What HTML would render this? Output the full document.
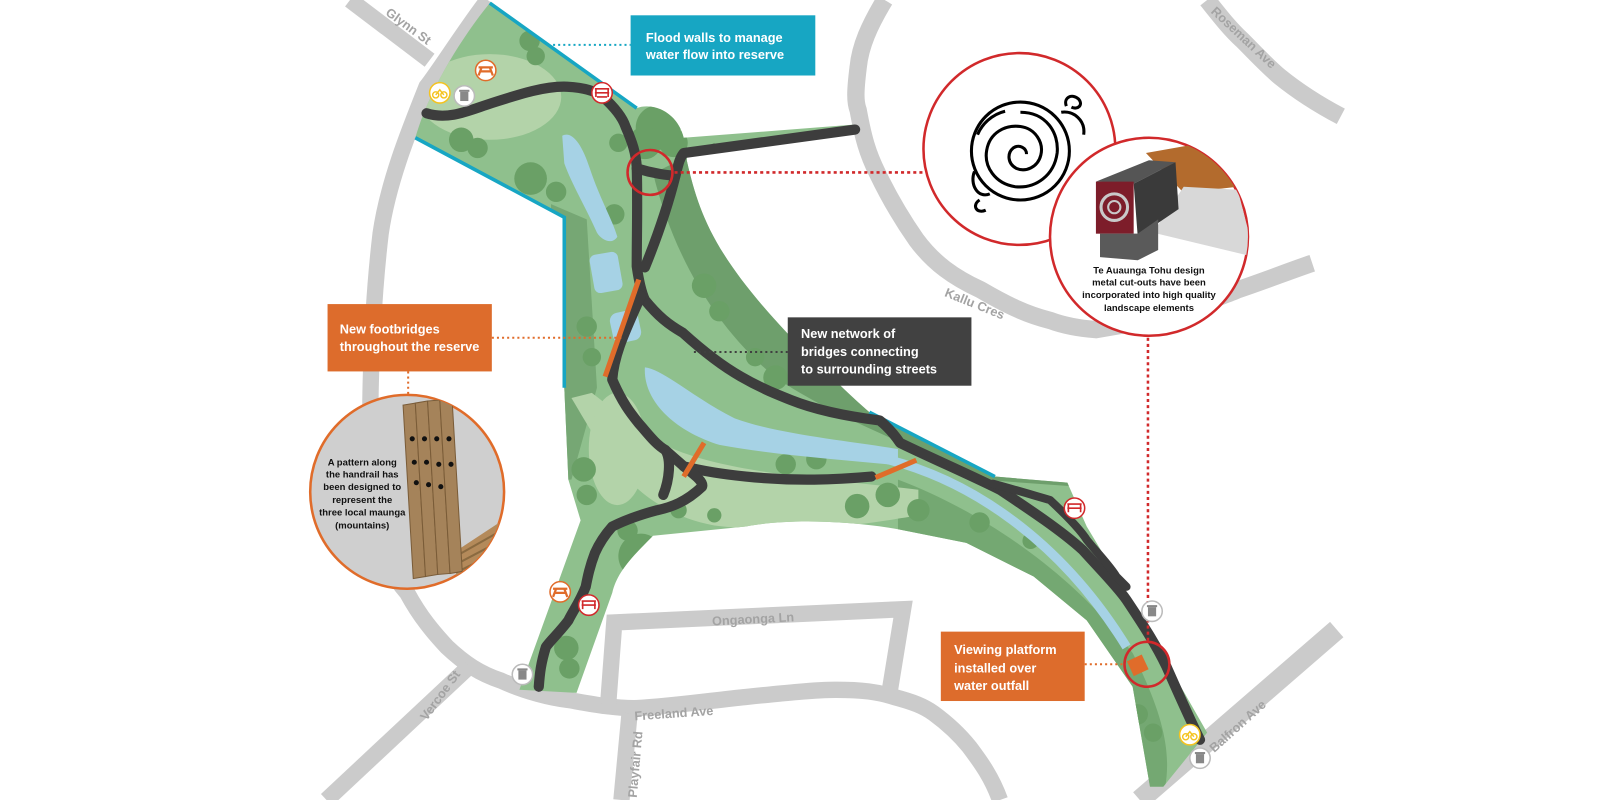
<!DOCTYPE html>
<html><head><meta charset="utf-8">
<style>
html,body{margin:0;padding:0;background:#fff;}
svg{display:block;}
text{font-family:"Liberation Sans",sans-serif;}
.rd{fill:none;stroke:#cbcbcb;stroke-width:16;}
.rl{fill:#a3a3a3;font-size:12.5px;font-weight:bold;}
.pth{fill:none;stroke:#3d3d3d;stroke-width:10;stroke-linecap:round;stroke-linejoin:round;}
.br{stroke:#e06c2a;stroke-width:5;}
.bx{fill:#fff;font-size:12.5px;font-weight:bold;}
.ct{fill:#111;font-size:9.3px;font-weight:bold;text-anchor:middle;}
</style></head>
<body>
<svg width="1600" height="800" viewBox="0 0 1568 784" xmlns="http://www.w3.org/2000/svg">
<defs>
<clipPath id="c2"><circle cx="1126" cy="232" r="97"/></clipPath>
<clipPath id="c3"><circle cx="399" cy="482" r="95"/></clipPath>
<clipPath id="park"><path id="parkp" d="M480,3 L624,106 C640,100 664,110 670,135 L838,122 L838,130 L673,150 L673,157 C685,210 700,250 771,326 C800,355 830,385 852,404 L975,467 L1046,473 L1065,516 L1098,571 L1127,620 L1183,718 L1140,771 L1127,771 L1110,673 L1065,608 L1013,565 L947,532 L882,519 C820,508 760,510 731,516 L640,525 C620,545 605,560 600,581 L565,679 L509,676 L569,510 L557,470 L553,380 L553,213 L407,135 C420,90 450,40 480,3 Z"/></clipPath>
</defs>

<!-- roads -->
<path class="rd" d="M343,0 L421,59"/>
<path class="rd" d="M478,0 C455,30 430,70 418,85 C400,130 380,180 373,229 C367,280 364,330 363,392 L363,500 C370,540 385,565 399,581 C412,605 425,620 438,634 C455,650 470,660 491,667 C515,678 540,684 557,686 C580,690 600,694 622,694 C660,692 700,686 731,683 C770,679 800,676 819,676 C845,676 860,678 876,683 C895,688 905,692 915,699 C930,710 942,722 950,732 C962,748 972,762 980,784"/>
<path class="rd" d="M460,653 L320,784"/>
<path class="rd" d="M617,699 L609,784"/>
<path class="rd" d="M596,690 L602,610 L885,597 L871,683"/>
<path class="rd" style="stroke-width:17" d="M867,0 C852,25 843,45 841,66 C838,90 838,100 841,108 C846,135 850,150 860,170 C872,195 884,215 898,235 C915,258 935,272 961,284 C985,298 1005,308 1029,314 C1045,320 1060,322 1074,323 L1150,310 C1180,295 1200,290 1213,284 C1240,275 1265,265 1286,258"/>
<path class="rd" style="stroke-width:17" d="M1183,0 C1195,15 1205,28 1217,39 C1230,52 1242,65 1254,75 C1275,92 1295,104 1314,114"/>
<path class="rd" style="stroke-width:20" d="M1310,617 L1117,784"/>

<!-- road labels -->
<text class="rl" transform="translate(377,14) rotate(36)">Glynn St</text>
<text class="rl" transform="translate(1186,12) rotate(43)">Roseman Ave</text>
<text class="rl" transform="translate(925,290) rotate(22)">Kallu Cres</text>
<text class="rl" transform="translate(698,613) rotate(-3)">Ongaonga Ln</text>
<text class="rl" transform="translate(622,706) rotate(-4)">Freeland Ave</text>
<text class="rl" transform="translate(624,782) rotate(-85)">Playfair Rd</text>
<text class="rl" transform="translate(418,707) rotate(-54)">Vercoe St</text>
<text class="rl" transform="translate(1190,738) rotate(-42)">Balfron Ave</text>

<!-- park -->
<use href="#parkp" fill="#8fc08d"/>
<g clip-path="url(#park)">
  <path d="M640,170 C660,250 700,320 760,370 C820,410 880,430 960,470 L1100,480 L1000,400 L860,380 L700,140 Z" fill="#6e9f6c"/>
  <path d="M540,200 L575,215 L585,380 L560,470 L540,470 Z" fill="#76a774"/>
  <path d="M880,470 C960,500 1050,560 1110,640 C1140,700 1150,740 1140,780 L1100,780 L1070,640 C1030,590 960,545 880,525 Z" fill="#74a872"/>
  <ellipse cx="480" cy="95" rx="70" ry="42" fill="#b3d3a9"/>
  <path d="M560,390 C590,440 620,500 700,515 C780,525 860,512 900,505 L900,480 C820,470 720,465 660,440 C620,420 600,400 580,385 Z" fill="#b3d3a9"/>
  <ellipse cx="605" cy="440" rx="28" ry="55" fill="#b3d3a9"/>
  <g fill="#6aa066">
    <circle cx="645" cy="125" r="22"/><circle cx="632" cy="140" r="16"/><circle cx="660" cy="140" r="14"/>
    <circle cx="519" cy="40" r="10"/><circle cx="525" cy="55" r="9"/><circle cx="452" cy="137" r="12"/><circle cx="468" cy="145" r="10"/>
    <circle cx="520" cy="175" r="16"/><circle cx="545" cy="188" r="10"/><circle cx="606" cy="140" r="9"/><circle cx="602" cy="210" r="10"/>
    <circle cx="690" cy="280" r="12"/><circle cx="705" cy="305" r="10"/><circle cx="760" cy="370" r="12"/><circle cx="740" cy="350" r="9"/>
    <circle cx="575" cy="320" r="10"/><circle cx="580" cy="350" r="9"/><circle cx="572" cy="460" r="12"/><circle cx="575" cy="485" r="10"/>
    <circle cx="628" cy="545" r="22"/><circle cx="615" cy="520" r="10"/><circle cx="555" cy="635" r="12"/><circle cx="558" cy="655" r="10"/>
    <circle cx="665" cy="500" r="8"/><circle cx="700" cy="505" r="7"/><circle cx="770" cy="455" r="10"/><circle cx="800" cy="450" r="10"/>
    <circle cx="840" cy="496" r="12"/><circle cx="870" cy="485" r="12"/><circle cx="900" cy="500" r="11"/><circle cx="960" cy="512" r="10"/>
    <circle cx="1010" cy="530" r="8"/><circle cx="1115" cy="700" r="10"/><circle cx="1130" cy="718" r="9"/>
  </g>
</g>

<!-- water -->
<g fill="#a6d2e5">
  <path d="M551,133 C560,128 570,140 578,165 C588,195 600,215 605,232 C600,240 590,236 585,228 C575,205 560,180 553,160 Z"/>
  <rect x="580" y="248" width="28" height="38" rx="6" transform="rotate(-10 594 267)"/>
  <rect x="599" y="305" width="28" height="30" rx="8" transform="rotate(-12 613 320)"/>
  <path d="M632,360 C650,362 680,390 720,410 C760,425 830,432 880,440 L880,456 C820,450 760,446 705,436 C660,422 630,392 632,360 Z"/>
</g>
<path d="M860,448 C950,468 1040,530 1104,634" fill="none" stroke="#a6d2e5" stroke-width="9"/>

<!-- flood walls -->
<g stroke="#17a6c3" stroke-width="3.5" fill="none">
  <path d="M480,3 L624,106"/>
  <path d="M407,135 L553,213 L553,380"/>
  <path d="M852,404 L975,467"/>
</g>

<!-- paths -->
<path class="pth" d="M418,111 C440,118 460,108 482,101 C510,92 535,84 556,85 C575,86 585,90 591,95 C602,105 610,115 613,124 C620,140 623,150 624,163 C625,200 624,230 624,261 C626,275 628,285 632,294 C645,310 655,318 669,326 C690,345 710,360 726,369 C745,380 760,386 775,392 C800,402 830,408 862,412 C872,420 878,428 882,434 C915,450 950,465 980,480 C1010,500 1040,520 1061,539 C1080,560 1095,575 1104,588 C1120,612 1133,632 1143,653 C1155,680 1166,705 1176,725"/>
<path class="pth" d="M624,165 C640,170 655,172 662,172 C665,160 666,155 670,150 L838,127"/>
<path class="pth" d="M662,172 C655,200 645,230 632,262"/>
<path class="pth" d="M628,290 C615,320 602,345 600,372 C610,395 618,405 626,415 C635,425 642,435 652,441 C662,450 668,455 670,457 C690,462 710,465 731,467 C780,472 820,470 854,467"/>
<path class="pth" d="M670,457 C680,465 690,472 688,477 C672,492 658,497 644,500 C625,505 612,510 600,516 C592,525 587,533 583,542 C578,555 576,565 574,575 C568,590 562,598 557,608 C548,620 540,627 535,634 C530,650 529,660 528,673"/>
<path class="pth" d="M652,441 C658,450 656,470 650,485"/>
<path class="pth" style="stroke-width:8" d="M973,474 C995,480 1015,486 1029,490 C1045,505 1058,518 1065,529 C1078,545 1088,555 1094,565 L1104,575"/>

<!-- bridges -->
<line class="br" x1="626" y1="274" x2="593" y2="369"/>
<line class="br" x1="690" y1="434" x2="670" y2="467"/>
<line class="br" x1="898" y1="451" x2="858" y2="468"/>
<rect x="1107" y="644" width="16" height="16" fill="#e06c2a" transform="rotate(-25 1115 652)"/>

<!-- red circles & dotted -->
<circle cx="637" cy="169" r="22" fill="none" stroke="#d1292b" stroke-width="2.5"/>
<circle cx="1124" cy="651" r="22" fill="none" stroke="#d1292b" stroke-width="2.5"/>
<line x1="661" y1="169" x2="905" y2="169" stroke="#d1292b" stroke-width="2.5" stroke-dasharray="3 3"/>
<line x1="1125" y1="331" x2="1125" y2="628" stroke="#d1292b" stroke-width="2.5" stroke-dasharray="3 3"/>

<!-- icons -->
<g>
  <g><circle cx="476" cy="69" r="10" fill="#fff" stroke="#e06c2a" stroke-width="1.5"/><path d="M469,66 h14 M471,70 h10 M472,66 l-3,8 M480,66 l3,8" stroke="#e06c2a" stroke-width="2.2" fill="none"/></g>
  <g><circle cx="431" cy="91" r="10" fill="#fff" stroke="#f4c320" stroke-width="1.5"/><circle cx="427" cy="93" r="3" fill="none" stroke="#f4c320" stroke-width="1.4"/><circle cx="435" cy="93" r="3" fill="none" stroke="#f4c320" stroke-width="1.4"/><path d="M427,93 l4,-5 l4,5" stroke="#f4c320" stroke-width="1.4" fill="none"/></g>
  <g><circle cx="455" cy="94" r="10" fill="#fff" stroke="#bbb" stroke-width="1.5"/><rect x="451" y="90" width="8" height="9" fill="#888"/><rect x="450" y="88" width="10" height="2" fill="#888"/></g>
  <g><circle cx="590" cy="91" r="10" fill="#fff" stroke="#d1292b" stroke-width="1.5"/><path d="M583,87 h14 M583,91 h14 M584,87 v8 M596,87 v8 M585,95 h10" stroke="#d1292b" stroke-width="1.6" fill="none"/></g>
  <g><circle cx="1053" cy="498" r="10" fill="#fff" stroke="#d1292b" stroke-width="1.5"/><path d="M1046,494 h14 M1046,498 h14 M1047,494 v8 M1059,494 v8" stroke="#d1292b" stroke-width="1.6" fill="none"/></g>
  <g><circle cx="1129" cy="599" r="10" fill="#fff" stroke="#bbb" stroke-width="1.5"/><rect x="1125" y="595" width="8" height="9" fill="#888"/><rect x="1124" y="593" width="10" height="2" fill="#888"/></g>
  <g><circle cx="1166" cy="720" r="10" fill="#fff" stroke="#f4c320" stroke-width="1.5"/><circle cx="1162" cy="722" r="3" fill="none" stroke="#f4c320" stroke-width="1.4"/><circle cx="1170" cy="722" r="3" fill="none" stroke="#f4c320" stroke-width="1.4"/><path d="M1162,722 l4,-5 l4,5" stroke="#f4c320" stroke-width="1.4" fill="none"/></g>
  <g><circle cx="1176" cy="743" r="10" fill="#fff" stroke="#bbb" stroke-width="1.5"/><rect x="1172" y="739" width="8" height="9" fill="#888"/><rect x="1171" y="737" width="10" height="2" fill="#888"/></g>
  <g><circle cx="549" cy="580" r="10" fill="#fff" stroke="#e06c2a" stroke-width="1.5"/><path d="M542,577 h14 M544,581 h10 M545,577 l-3,8 M553,577 l3,8" stroke="#e06c2a" stroke-width="2.2" fill="none"/></g>
  <g><circle cx="577" cy="593" r="10" fill="#fff" stroke="#d1292b" stroke-width="1.5"/><path d="M570,589 h14 M570,593 h14 M571,589 v8 M583,589 v8" stroke="#d1292b" stroke-width="1.6" fill="none"/></g>
  <g><circle cx="512" cy="661" r="10" fill="#fff" stroke="#bbb" stroke-width="1.5"/><rect x="508" y="657" width="8" height="9" fill="#888"/><rect x="507" y="655" width="10" height="2" fill="#888"/></g>
</g>

<!-- big circle 1 koru -->
<circle cx="999" cy="146" r="94" fill="#fff" stroke="#d1292b" stroke-width="2.5"/>
<g fill="none" stroke="#000" stroke-width="3">
  <circle cx="1000" cy="148" r="48"/>
  <path d="M1000,110 C1025,110 1038,130 1036,150 C1033,172 1015,185 995,183 C975,180 964,163 967,147 C970,130 985,122 1000,124 C1015,126 1023,140 1020,152 C1017,164 1005,169 996,165 C987,160 987,150 993,145 C999,141 1006,145 1006,151"/>
  <path d="M985,109 C972,112 962,122 958,132"/>
  <path d="M1040,110 C1052,108 1064,118 1062,132 M1045,104 C1042,96 1050,91 1057,97 C1062,103 1056,108 1050,105"/>
  <path d="M955,168 C950,180 958,195 970,190 M960,196 C952,201 957,210 966,206"/>
</g>

<!-- big circle 2 -->
<circle cx="1126" cy="232" r="97" fill="#fff" stroke="#d1292b" stroke-width="2.5"/>
<g clip-path="url(#c2)">
  <polygon points="1123,150 1179,140 1213,183 1160,189" fill="#b36b2d"/>
  <polygon points="1130,228 1160,183 1213,186 1230,252" fill="#d8d8d8"/>
  <polygon points="1074,178 1126,157 1152,159 1111,180" fill="#555"/>
  <polygon points="1111,180 1152,159 1155,205 1115,232" fill="#3a3a3a"/>
  <rect x="1074" y="178" width="37" height="51" fill="#7d1d2a"/>
  <circle cx="1092" cy="203" r="13" fill="none" stroke="#c9c9c9" stroke-width="3"/>
  <circle cx="1092" cy="203" r="6" fill="none" stroke="#c9c9c9" stroke-width="2"/>
  <polygon points="1078,229 1115,229 1135,215 1135,245 1115,255 1078,252" fill="#5a5a5a"/>
</g>
<text class="ct" x="1126" y="268">Te Auaunga Tohu design</text>
<text class="ct" x="1126" y="280">metal cut-outs have been</text>
<text class="ct" x="1126" y="292">incorporated into high quality</text>
<text class="ct" x="1126" y="305">landscape elements</text>

<!-- left circle -->
<circle cx="399" cy="482" r="95" fill="#cfcfcf" stroke="#e06c2a" stroke-width="2.5"/>
<g clip-path="url(#c3)">
  <polygon points="447,540 500,505 500,570 447,570" fill="#b48a5a"/>
  <g stroke="#8a6a40" stroke-width="2"><line x1="447" y1="545" x2="500" y2="515"/><line x1="447" y1="553" x2="500" y2="525"/><line x1="447" y1="561" x2="500" y2="535"/></g>
  <g fill="#a5835a" stroke="#7a5c38" stroke-width="1">
    <polygon points="395,397 407,395 417,565 405,567"/>
    <polygon points="407,395 419,393 429,563 417,565"/>
    <polygon points="419,393 431,392 441,562 429,563"/>
    <polygon points="431,392 443,391 453,560 441,562"/>
  </g>
  <g fill="#111"><circle cx="404" cy="430" r="2.5"/><circle cx="416" cy="430" r="2.5"/><circle cx="428" cy="430" r="2.5"/><circle cx="440" cy="430" r="2.5"/>
  <circle cx="406" cy="453" r="2.5"/><circle cx="418" cy="453" r="2.5"/><circle cx="430" cy="455" r="2.5"/><circle cx="442" cy="455" r="2.5"/>
  <circle cx="408" cy="473" r="2.5"/><circle cx="420" cy="475" r="2.5"/><circle cx="432" cy="477" r="2.5"/></g>
</g>
<text class="ct" x="355" y="456">A pattern along</text>
<text class="ct" x="355" y="468">the handrail has</text>
<text class="ct" x="355" y="480">been designed to</text>
<text class="ct" x="355" y="493">represent the</text>
<text class="ct" x="355" y="505">three local maunga</text>
<text class="ct" x="355" y="518">(mountains)</text>

<!-- callout boxes -->
<line x1="542" y1="44" x2="618" y2="44" stroke="#17a6c3" stroke-width="2" stroke-dasharray="2 3"/>
<rect x="618" y="15" width="181" height="59" fill="#17a6c3"/>
<text class="bx" x="633" y="41">Flood walls to manage</text>
<text class="bx" x="633" y="58">water flow into reserve</text>

<line x1="482" y1="331" x2="612" y2="331" stroke="#e06c2a" stroke-width="2" stroke-dasharray="2 3"/>
<line x1="400" y1="364" x2="400" y2="388" stroke="#e06c2a" stroke-width="2" stroke-dasharray="2 3"/>
<rect x="321" y="298" width="161" height="66" fill="#dd6c2c"/>
<text class="bx" x="333" y="327">New footbridges</text>
<text class="bx" x="333" y="344">throughout the reserve</text>

<line x1="680" y1="345" x2="772" y2="345" stroke="#404040" stroke-width="2" stroke-dasharray="2 3"/>
<rect x="772" y="311" width="180" height="67" fill="#414141"/>
<text class="bx" x="785" y="331">New network of</text>
<text class="bx" x="785" y="349">bridges connecting</text>
<text class="bx" x="785" y="366">to surrounding streets</text>

<line x1="1063" y1="651" x2="1103" y2="651" stroke="#e06c2a" stroke-width="2" stroke-dasharray="2 3"/>
<rect x="922" y="619" width="141" height="68" fill="#dd6c2c"/>
<text class="bx" x="935" y="641">Viewing platform</text>
<text class="bx" x="935" y="659">installed over</text>
<text class="bx" x="935" y="676">water outfall</text>
</svg>
</body></html>
